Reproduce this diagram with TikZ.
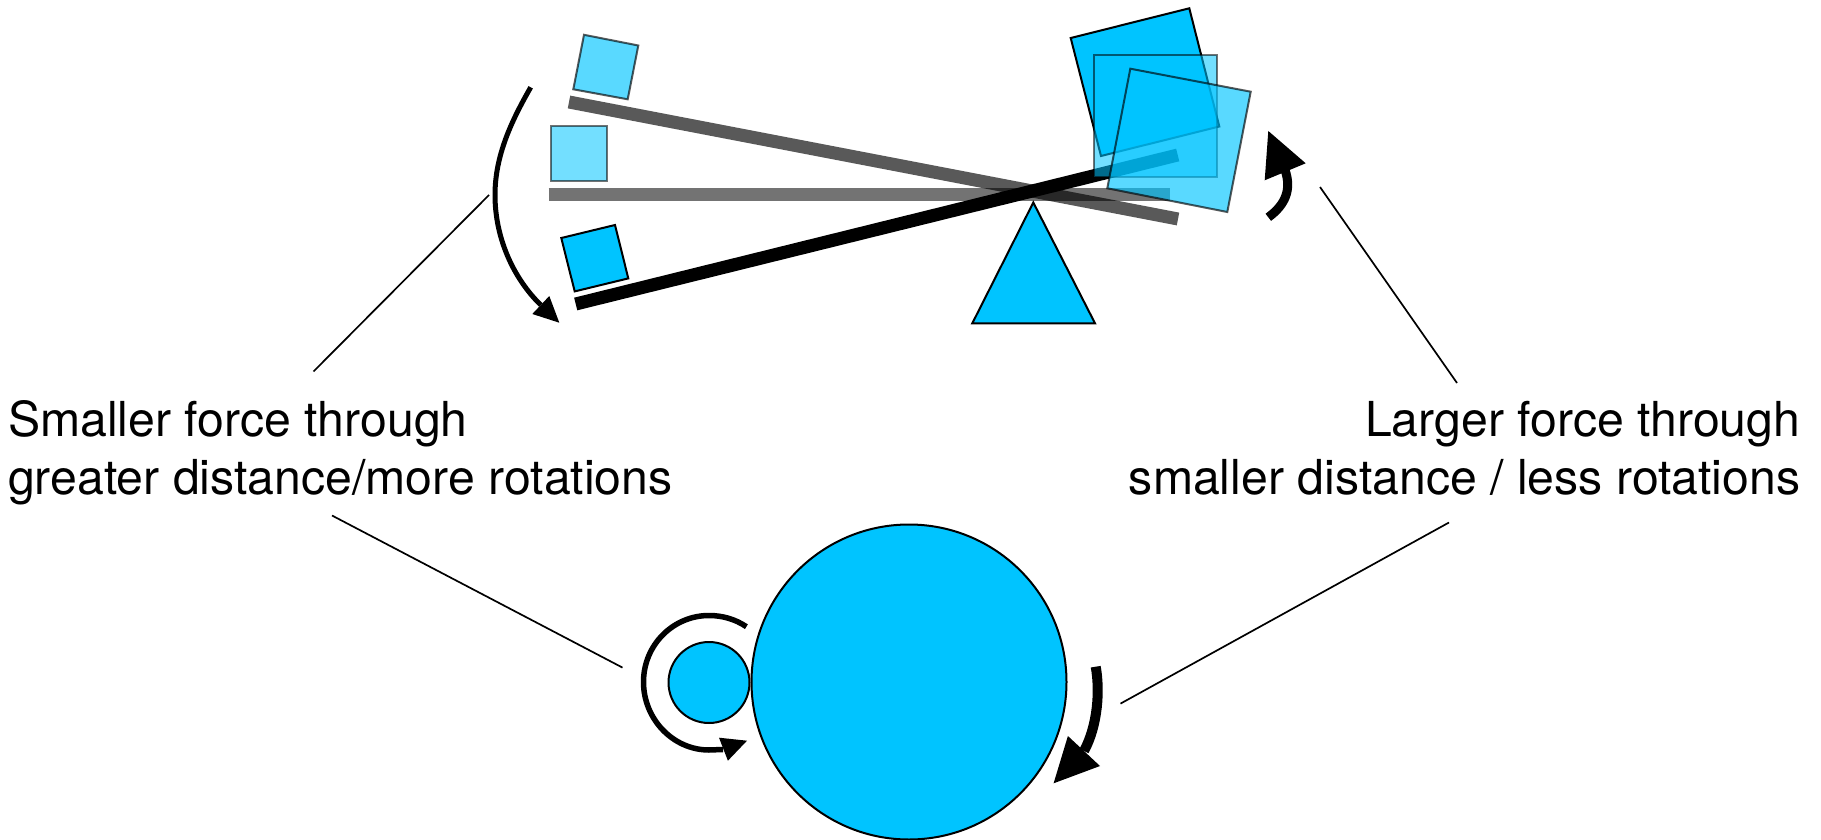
\documentclass[tikz,border=0pt]{standalone}
\usepackage{fontspec}
\setmainfont{TeX Gyre Heros}
\definecolor{sky}{HTML}{00C4FF}
\tikzset{
  x=1pt,y=-1pt,
  solidpart/.style={draw=black,line width=2pt,fill=sky,line join=miter},
  ghostA/.style={solidpart,opacity=.55},
  ghostB/.style={solidpart,opacity=.65},
  beamsolid/.style={draw=black,line width=13pt},
  beamA/.style={beamsolid,draw opacity=.55},
  beamB/.style={beamsolid,draw opacity=.65},
  leader/.style={draw=black,line width=1.7pt},
  headfill/.style={fill=black,draw=none},
  caption/.style={inner sep=0pt,align=#1,font=\fontsize{48.2}{58.5}\selectfont},
}
\begin{document}
\begin{tikzpicture}
\useasboundingbox (0,0) rectangle (1821,840);
% beam ends
\coordinate (bk1) at (575.7,304);  \coordinate (bk2) at (1177.7,155);
\coordinate (md1) at (548.7,194.5); \coordinate (md2) at (1170,194.5);
\coordinate (tp1) at (569,102);    \coordinate (tp2) at (1178,219);
% opaque state
\draw[solidpart] (561.3,238) -- (615,225) -- (628.3,278.4) -- (574.7,291.4) -- cycle;
\draw[beamsolid] (bk1) -- (bk2);
\draw[solidpart] (1070.7,38) -- (1189.3,8.3) -- (1219.3,126.5) -- (1101,156) -- cycle;
\draw[solidpart] (1033.3,202.5) -- (972.3,323.3) -- (1095,323.3) -- cycle;
% level state
\draw[beamA] (md1) -- (md2);
\draw[ghostA] (551,125.7) rectangle (606.7,181.3);
\draw[ghostA] (1094,54.7) rectangle (1216.7,177);
% raised state
\draw[beamB] (tp1) -- (tp2);
\draw[ghostB] (584,34.8) -- (638.3,45.5) -- (627.7,99.3) -- (573.3,89.3) -- cycle;
\draw[ghostB] (1130.3,68.7) -- (1250.7,91.7) -- (1227.3,212) -- (1107.3,188.3) -- cycle;
% upper arrows
\draw[line width=5pt] (530.7,87.3) .. controls (512,120) and (495,155) .. (495,195)
   .. controls (495,240) and (515,280) .. (540.8,305);
\fill[headfill] (559.3,322.7) -- (532.3,314) -- (549.3,296) -- cycle;
\draw[line width=9pt] (1268.3,217.3) .. controls (1285,205) and (1292,190) .. (1285,170);
\fill[headfill] (1268.3,131) -- (1264.7,180.3) -- (1305.7,163.3) -- cycle;
% gears
\node[solidpart,circle,minimum size=315pt,inner sep=0pt] (big) at (909,682) {};
\node[solidpart,circle,minimum size=81pt,inner sep=0pt] (small) at (709,682.5) {};
\draw[line width=5.5pt] (746.4,626.7) .. controls (735,619) and (722,615.5) .. (709,615.5)
   .. controls (673,615.5) and (643.5,645) .. (643.5,682)
   .. controls (643.5,719) and (673,750) .. (709,750) -- (723,749.5);
\fill[headfill] (747,740.7) -- (719,737.7) -- (727.9,760.7) -- cycle;
\draw[line width=10pt] (1095.7,666.7) .. controls (1100,690) and (1098,725) .. (1084,751);
\fill[headfill] (1053.6,783.3) -- (1067.9,736) -- (1100,766) -- cycle;
% captions
\node[caption=left,anchor=base west] (capl) at (8,494.5) {Smaller force through\\greater distance/more rotations};
\node[caption=right,anchor=base east] (capr) at (1800.5,494.5) {Larger force through\\smaller distance / less rotations};
% leaders
\coordinate (a1) at (489,195);   \coordinate (a2) at (313.5,371.5);
\coordinate (b1) at (1320,187);  \coordinate (b2) at (1457,383);
\coordinate (c1) at (332,515.5); \coordinate (c2) at (622.5,667.6);
\coordinate (d1) at (1449,522.5);\coordinate (d2) at (1120.5,703.6);
\draw[leader] (a1) -- (a2);
\draw[leader] (b1) -- (b2);
\draw[leader] (c1) -- (c2);
\draw[leader] (d1) -- (d2);
\end{tikzpicture}
\end{document}
